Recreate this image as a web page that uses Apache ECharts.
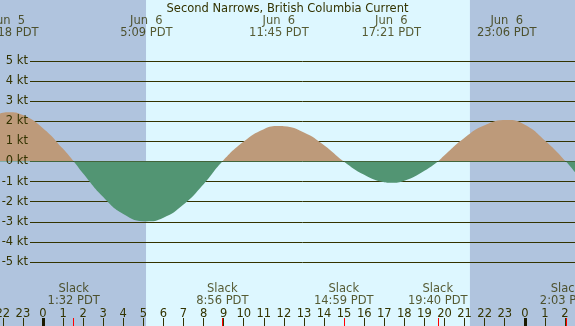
<!DOCTYPE html>
<html>
<head>
<meta charset="utf-8">
<script src="https://cdn.jsdelivr.net/npm/echarts@6/dist/echarts.min.js"></script>
<style>
html,body{margin:0;padding:0;background:#b0c4de;}
#c{width:575px;height:326px;}
</style>
</head>
<body>
<div id="c"></div>
<script>
// ---- data (hours relative to Jun 6 00:00 PDT) ----
const titleText = 'Second Narrows, British Columbia Current';
const maxDays   = [-1, 0, 0, 0, 0];
const maxDates  = ['Jun  5', 'Jun  6', 'Jun  6', 'Jun  6', 'Jun  6'];
const maxTimes  = ['22:18', '5:09', '11:45', '17:21', '23:06'];
const maxValues = [2.45, -2.98, 1.76, -1.06, 2.06];
const slackDays  = [0, 0, 0, 0, 1];
const slackTimes = ['1:32', '8:56', '14:59', '19:40', '2:03'];
// current speed at whole hours (hours from Jun 6 00:00, knots)
const readHours  = [-3,   -2,   -1,   0,    1,    2,     3,     4,     6,     7,     8,     10,   11,   12,   13,   14,   16,    17,    18,    19,    20,   21,   22,   24,   25,   27,    28];
const readValues = [1.97, 2.42, 2.31, 1.66, 0.63, -0.60, -1.77, -2.61, -2.80, -2.14, -1.13, 0.99, 1.61, 1.75, 1.44, 0.81, -0.66, -1.03, -0.96, -0.46, 0.31, 1.18, 1.80, 1.83, 1.05, -1.14, -2.14];
const sunrise = '5:08';
const sunset  = '21:16';
const hourTicks = [-2,-1,0,1,2,3,4,5,6,7,8,9,10,11,12,13,14,15,16,17,18,19,20,21,22,23,24,25,26];
const midnightTicks = [0, 24];

// ---- helpers ----
function hrs(day, t){ const p = t.split(':'); return day*24 + (+p[0]) + (+p[1])/60; }
const X_MIN = -2.14, X_MAX = 26.5;
const PX_PER_KT = 20.1, ZERO_Y = 161.5, H = 326;
const Y_MAX = ZERO_Y / PX_PER_KT, Y_MIN = -(H - ZERO_Y) / PX_PER_KT;
function yAt(px){ return (ZERO_Y - px) / PX_PER_KT; }

const pts = [];
maxTimes.forEach((t,i)=>pts.push([hrs(maxDays[i],t), maxValues[i]]));
slackTimes.forEach((t,i)=>pts.push([hrs(slackDays[i],t), 0]));
readHours.forEach((h,i)=>pts.push([h, readValues[i]]));
pts.sort((a,b)=>a[0]-b[0]);

const slackHours = slackTimes.map((t,i)=>hrs(slackDays[i],t));
const TXT = '#333300';
const FLOOD = '#bd9a7a', EBB = '#529573';
const FONT = 'DejaVu Sans';
const FS = 11.5;
const zf = ZERO_Y / H;

const chart = echarts.init(document.getElementById('c'), null, {renderer:'canvas'});
chart.setOption({
  animation: false,
  backgroundColor: '#b0c4de',
  textStyle: {fontFamily: FONT},
  title: {
    text: titleText, left: 'center', top: 3, padding: 0,
    textStyle: {fontFamily: FONT, fontSize: FS, fontWeight: 'normal', color: TXT}
  },
  grid: [
    {left: 0, right: 0, top: 0, bottom: 0, containLabel: false, outerBoundsMode: 'none'},
    {left: 30, right: 0, top: ZERO_Y - 5*PX_PER_KT, bottom: H - (ZERO_Y + 5*PX_PER_KT), containLabel: false, outerBoundsMode: 'none'}
  ],
  xAxis: [
    {type:'value', gridIndex:0, min:X_MIN, max:X_MAX, position:'bottom', z:3,
     axisLine:{show:false, onZero:false}, splitLine:{show:false},
     axisTick:{show:true, inside:true, length:8, customValues: hourTicks, lineStyle:{color:TXT, width:1}},
     axisLabel:{show:true, inside:true, margin:6, customValues: hourTicks, color:TXT, fontFamily:FONT, fontSize:FS,
       showMinLabel:true, showMaxLabel:true, hideOverlap:false,
       formatter: v => String(((Math.round(v)%24)+24)%24)}},
    {type:'value', gridIndex:0, min:X_MIN, max:X_MAX, position:'bottom', z:4,
     axisLine:{show:false, onZero:false}, splitLine:{show:false}, axisLabel:{show:false},
     axisTick:{show:true, inside:true, length:8, customValues: midnightTicks, lineStyle:{color:'#1a1a00', width:3}}},
    {type:'value', gridIndex:0, min:X_MIN, max:X_MAX, position:'bottom', z:4,
     axisLine:{show:false, onZero:false}, splitLine:{show:false}, axisLabel:{show:false},
     axisTick:{show:true, inside:true, length:8, customValues: slackHours, lineStyle:{color:'#ff0000', width:1}}},
    {type:'value', gridIndex:1, min:X_MIN, max:X_MAX, show:false}
  ],
  yAxis: [
    {type:'value', gridIndex:0, min:Y_MIN, max:Y_MAX, show:false, splitLine:{show:false}},
    {type:'value', gridIndex:1, min:-5, max:5, interval:1, position:'left', z:1,
     axisLine:{show:false}, axisTick:{show:false}, axisLabel:{show:false},
     splitLine:{show:true, lineStyle:{color:TXT, width:1}}},
    {type:'value', gridIndex:1, min:-5, max:5, interval:1, position:'left', z:5,
     axisLine:{show:false}, axisTick:{show:false}, splitLine:{show:false},
     axisLabel:{show:true, margin:2, color:TXT, fontFamily:FONT, fontSize:FS, formatter: v => v + ' kt'}}
  ],
  series: [
    {
      type:'line', xAxisIndex:0, yAxisIndex:0, data: pts, smooth: 0.5,
      symbol:'none', lineStyle:{width:0}, z:2, clip:true,
      areaStyle:{opacity:1, origin:0, color:{
        type:'linear', x:0, y:0, x2:0, y2:H, global:true,
        colorStops:[{offset:0,color:FLOOD},{offset:zf,color:FLOOD},{offset:zf,color:EBB},{offset:1,color:EBB}]
      }},
      markArea: {
        silent:true, z:0.5,
        itemStyle:{color:'#ddf7ff'},
        data:[[{xAxis: hrs(0,sunrise)}, {xAxis: hrs(0,sunset)}]]
      }
    },
    {
      type:'scatter', xAxisIndex:0, yAxisIndex:0, symbolSize:0, z:6,
      data: maxTimes.map((t,i)=>({value:[hrs(maxDays[i],t), yAt(27)], name: maxDates[i] + '\n' + t + ' PDT'})),
      label:{show:true, position:'inside', formatter: p => p.name, color:TXT, fontFamily:FONT, fontSize:FS, lineHeight:12}
    },
    {
      type:'scatter', xAxisIndex:0, yAxisIndex:0, symbolSize:0, z:6,
      data: slackTimes.map((t,i)=>({value:[hrs(slackDays[i],t), yAt(295.5)], name: 'Slack\n' + t + ' PDT'})),
      label:{show:true, position:'inside', formatter: p => p.name, color:TXT, fontFamily:FONT, fontSize:FS, lineHeight:12}
    }
  ]
});
</script>
</body>
</html>
